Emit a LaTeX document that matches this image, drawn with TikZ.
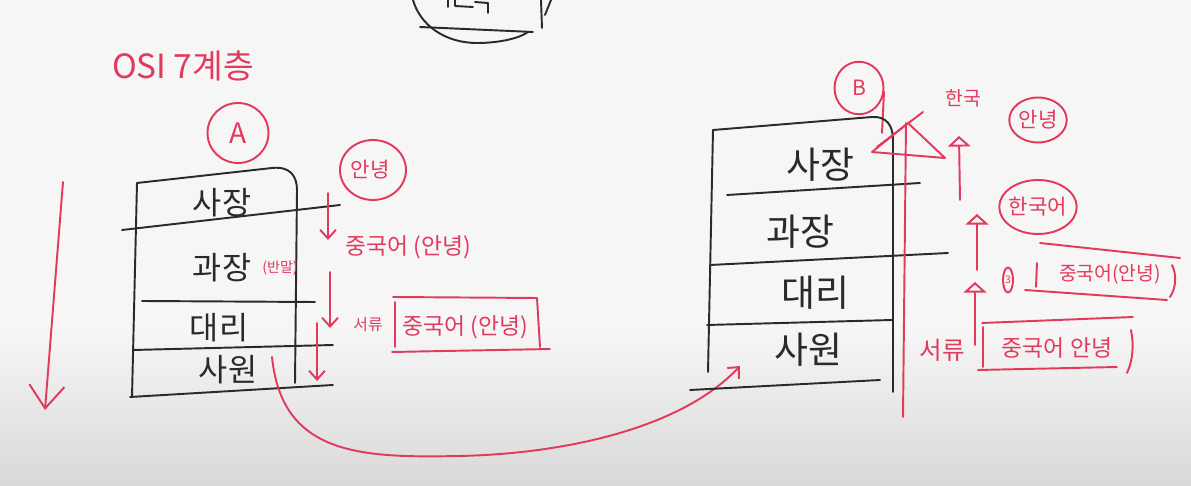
\documentclass[tikz,border=0pt]{standalone}
\usepackage{fontspec}
\setmainfont{Noto Sans CJK KR}
\usetikzlibrary{arrows.meta,shapes.geometric}
\definecolor{penc}{RGB}{226,58,92}
\definecolor{inkc}{RGB}{42,42,42}
\begin{document}
\begin{tikzpicture}[x=0.02cm,y=-0.02cm,
  blackline/.style={draw=inkc,line width=1.1pt,line cap=round,line join=round},
  redline/.style={draw=penc,line width=1.1pt,line cap=round,line join=round},
  layerA/.style={text=inkc,font=\fontsize{18}{18}\selectfont,inner sep=0pt},
  layerB/.style={text=inkc,font=\fontsize{21}{21}\selectfont,inner sep=0pt},
  note/.style={text=penc,inner sep=0pt},
  ring/.style={draw=penc,line width=1.1pt,ellipse,inner sep=0pt},
  barb/.style={-{Straight Barb[length=5pt,width=9pt]}},
  bigbarb/.style={-{Straight Barb[length=13pt,width=20pt]}},
  tri/.style={-{Triangle[open,length=6pt,width=13pt,line width=1.1pt]}}
]
% background
\fill[gray!7] (0,0) rectangle (1191,486);
\shade[top color=gray!7,bottom color=gray!30,draw=none] (0,330) rectangle (1191,486);
\useasboundingbox (0,0) rectangle (1191,486);

% top partial drawing (cut off)
\draw[blackline] (413,0) .. controls (420,25) and (445,43) .. (477,43) .. controls (500,43) and (520,38) .. (528,32);
\draw[blackline] (420,27) -- (533,32);
\draw[blackline] (541,0) -- (542,28);
\draw[blackline] (545,15) -- (551,0);
\draw[blackline] (448,0) -- (448,7);
\draw[blackline] (455,0) -- (455,6) -- (473,7);
\draw[blackline] (475,2) -- (488,3) -- (488,13);

% title
\node[note,font=\fontsize{19}{19}\selectfont] (title) at (183,66) {OSI 7계층};

% ----- Stack A -----
\node[note,ring,minimum width=1.22cm,minimum height=1.2cm,font=\fontsize{16}{16}\selectfont] (circA) at (238,133) {A};
\draw[blackline] (137,183) -- (132,397);
\draw[blackline] (137,183) -- (272,168) .. controls (290,166) and (297,176) .. (297,190) -- (295,383);
\draw[blackline] (122,230) -- (340,205);
\draw[blackline] (142,301) -- (315,302);
\draw[blackline] (133,350) -- (333,345);
\draw[blackline] (130,397) -- (333,385);
\node[layerA] (a1) at (222,203) {사장};
\node[layerA] (a2) at (222,268) {과장};
\node[note,font=\fontsize{8}{8}\selectfont] (a2n) at (280,268) {(반말)};
\node[layerA] (a3) at (219,328) {대리};
\node[layerA] (a4) at (228,370) {사원};

% red notes A
\node[note,font=\fontsize{12}{12}\selectfont] (hiA) at (370,170) {안녕};
\node[ring,minimum width=1.32cm,minimum height=1.2cm] (hiAc) at (373,170) {};
\node[note,font=\fontsize{13}{13}\selectfont] (cnA) at (408,247) {중국어 (안녕)};
\node[note,font=\fontsize{9}{9}\selectfont] (docA) at (368,325) {서류};
\node[note,font=\fontsize{13}{13}\selectfont] (pkA) at (465,327) {중국어 (안녕)};
\draw[redline] (393,297) -- (537,298) -- (540,347);
\draw[redline] (395,302) -- (395,347);
\draw[redline] (392,352) -- (550,349);

% down arrows A
\coordinate (dA1s) at (328,193); \coordinate (dA1e) at (328,240);
\coordinate (dA2s) at (330,272); \coordinate (dA2e) at (330,328);
\coordinate (dA3s) at (317,323); \coordinate (dA3e) at (317,381);
\draw[redline,barb] (dA1s) -- (dA1e);
\draw[redline,barb] (dA2s) -- (dA2e);
\draw[redline,barb] (dA3s) -- (dA3e);

% big left arrow
\coordinate (bigS) at (63,182); \coordinate (bigE) at (45,410);
\draw[redline,bigbarb] (bigS) -- (bigE);

% curve from A to B
\coordinate (cS) at (272,357); \coordinate (cE) at (740,366);
\draw[redline,barb] (cS) .. controls (282,455) and (360,458) .. (459,456) .. controls (560,454) and (680,430) .. (cE);

% ----- Stack B -----
\node[ring,minimum width=0.98cm,minimum height=1.05cm,font=\fontsize{12}{12}\selectfont,text=penc] (circB) at (859,88) {B};
\draw[redline] (884,92) -- (882,133);
\draw[blackline] (713,130) -- (708,372);
\draw[blackline] (713,130) -- (872,117) .. controls (886,116) and (893,125) .. (893,140) -- (893,392);
\draw[blackline] (727,195) -- (920,183);
\draw[blackline] (710,265) -- (948,253);
\draw[blackline] (707,325) -- (892,320);
\draw[blackline] (690,390) -- (880,380);
\node[layerB] (b1) at (820,165) {사장};
\node[layerB] (b2) at (800,232) {과장};
\node[layerB] (b3) at (815,293) {대리};
\node[layerB] (b4) at (808,350) {사원};

% red vertical with crossed triangle
\coordinate (vS) at (903,417); \coordinate (vE) at (906,123);
\draw[redline] (vS) -- (vE);
\draw[redline] (872,152) -- (908,123) -- (945,158) -- cycle;
\draw[redline] (877,147) -- (923,112);

% red notes B
\node[note,font=\fontsize{11}{11}\selectfont] (krB) at (963,98) {한국};
\node[note,font=\fontsize{12}{12}\selectfont] (hiB) at (1038,120) {안녕};
\node[ring,minimum width=1.15cm,minimum height=0.9cm] (hiBc) at (1038,120) {};
\node[note,font=\fontsize{12}{12}\selectfont] (korB) at (1038,207) {한국어};
\node[ring,minimum width=1.55cm,minimum height=1.08cm] (korBc) at (1038,207) {};
\node[ring,minimum width=0.2cm,minimum height=0.5cm,font=\fontsize{6}{6}\selectfont,text=penc] (num) at (1008,280) {3};
\node[note,font=\fontsize{11}{11}\selectfont] (cnB) at (1110,274) {중국어(안녕)};
\draw[redline] (1040,243) -- (1180,258);
\draw[redline] (1025,290) -- (1167,300);
\draw[redline] (1037,263) -- (1036,287);
\draw[redline] (1172,265) .. controls (1177,275) and (1176,288) .. (1170,297);
\node[note,font=\fontsize{14}{14}\selectfont] (docB) at (942,350) {서류};
\node[note,font=\fontsize{13}{13}\selectfont] (pkB) at (1057,348) {중국어 안녕};
\draw[redline] (982,323) -- (1133,317);
\draw[redline] (978,370) -- (1117,367);
\draw[redline] (983,327) -- (983,367);
\draw[redline] (1131,330) .. controls (1134,345) and (1133,360) .. (1127,373);

% up arrows B
\coordinate (u1s) at (960,200); \coordinate (u1e) at (959,136);
\coordinate (u2s) at (977,270); \coordinate (u2e) at (977,214);
\coordinate (u3s) at (975,345); \coordinate (u3e) at (975,282);
\draw[redline,tri] (u1s) -- (u1e);
\draw[redline,tri] (u2s) -- (u2e);
\draw[redline,tri] (u3s) -- (u3e);
\end{tikzpicture}
\end{document}
